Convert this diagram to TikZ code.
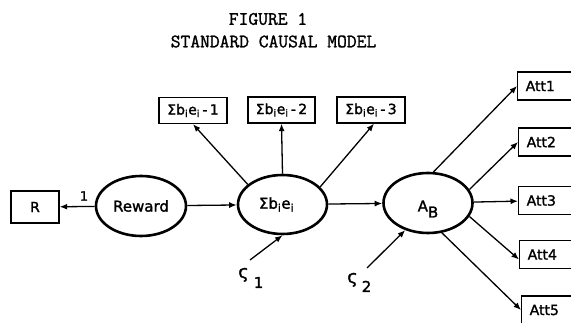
\documentclass[tikz,border=0pt]{standalone}
\usepackage{fontspec}
\newfontfamily\lsans{DejaVu Sans}[FakeBold=1.6]
\newfontfamily\ttlfont{Latin Modern Mono}[FakeBold=1.3]
\usetikzlibrary{shapes.geometric,arrows.meta}
\newcommand\sbx[1]{\textsubscript{#1}}
\begin{document}
\begin{tikzpicture}[x=1pt,y=-1pt,
  box/.style={draw,line width=1.4pt,font=\lsans\fontsize{14}{16}\selectfont,inner sep=0pt,minimum height=26pt},
  attbox/.style={box,anchor=west,text width=46pt,inner xsep=8pt,align=left,minimum height=28pt},
  oval/.style={draw,ellipse,line width=2.6pt,inner sep=0pt,minimum width=90pt,minimum height=60pt,font=\lsans\fontsize{15}{17}\selectfont},
  arr/.style={-{Latex[length=7.5pt,width=6pt]},line width=1.3pt},
  lbl/.style={font=\lsans\fontsize{15}{17}\selectfont,inner sep=0pt},
  ttl/.style={font=\ttlfont\fontsize{19}{21}\selectfont,inner sep=0pt}]
\useasboundingbox (0,0) rectangle (571,323);
\clip (0,0) rectangle (571,323);
\node[ttl] (t1) at (268,19) {FIGURE 1};
\node[ttl] (t2) at (273.5,41.5) {STANDARD CAUSAL MODEL};

\node[box,minimum width=48pt,minimum height=32pt] (R) at (35,207) {R};
\node[oval] (Rw) at (141,206) {Reward};
\node[oval,minimum width=89pt,minimum height=59pt] (S) at (282.5,204.5) {\hspace{-12pt}\raisebox{-3pt}{Σb\sbx{i}e\sbx{i}}};
\node[oval,minimum width=89pt] (AB) at (428,203) {\raisebox{-8.5pt}[0pt][0pt]{A\raisebox{-6pt}{B}}};

\node[box,minimum width=68pt] (B1) at (193,110.5) {Σb\sbx{i}e\sbx{i}\,-\,1};
\node[box,minimum width=67pt] (B2) at (281.5,110) {Σb\sbx{i}e\sbx{i}\,-\,2};
\node[box,minimum width=68pt] (B3) at (371,110) {Σb\sbx{i}e\sbx{i}\,-\,3};

\node[attbox] (A1) at (517,86) {Att1};
\node[attbox] (A2) at (518,142) {Att2};
\node[attbox] (A3) at (518,200.5) {Att3};
\node[attbox] (A4) at (519,254.5) {Att4};
\node[attbox] (A5) at (521,310) {Att5};

\node[lbl,font=\lsans\fontsize{13}{15}\selectfont] (one) at (84,196) {1};
\node[lbl,anchor=base west] (c1) at (238,278) {{\fontsize{18}{20}\selectfont ς}\hspace{5pt}\raisebox{-10pt}{1}};
\node[lbl,anchor=base west] (c2) at (347,283) {{\fontsize{18}{20}\selectfont ς}\hspace{4pt}\raisebox{-9pt}{2}};
\coordinate (c1s) at (250,260);
\coordinate (c2s) at (367,268);

\draw[arr] (Rw) -- (R);
\draw[arr] (Rw) -- (S);
\draw[arr] (S) -- (AB);
\draw[arr] (S.150) -- (B1.south);
\draw[arr] (S.north) -- (B2.south);
\draw[arr] (S.25) -- ([xshift=3pt]B3.south);
\draw[arr] (AB.80) -- (A1.west);
\draw[arr] (AB.18) -- (A2.west);
\draw[arr] (AB) -- (A3);
\draw[arr] (AB.-18) -- ([yshift=-5pt]A4.west);
\draw[arr] (AB.-65) -- (A5.west);
\draw[arr] (c1s) -- (S.south);
\draw[arr] (c2s) -- (AB.230);
\end{tikzpicture}
\end{document}
